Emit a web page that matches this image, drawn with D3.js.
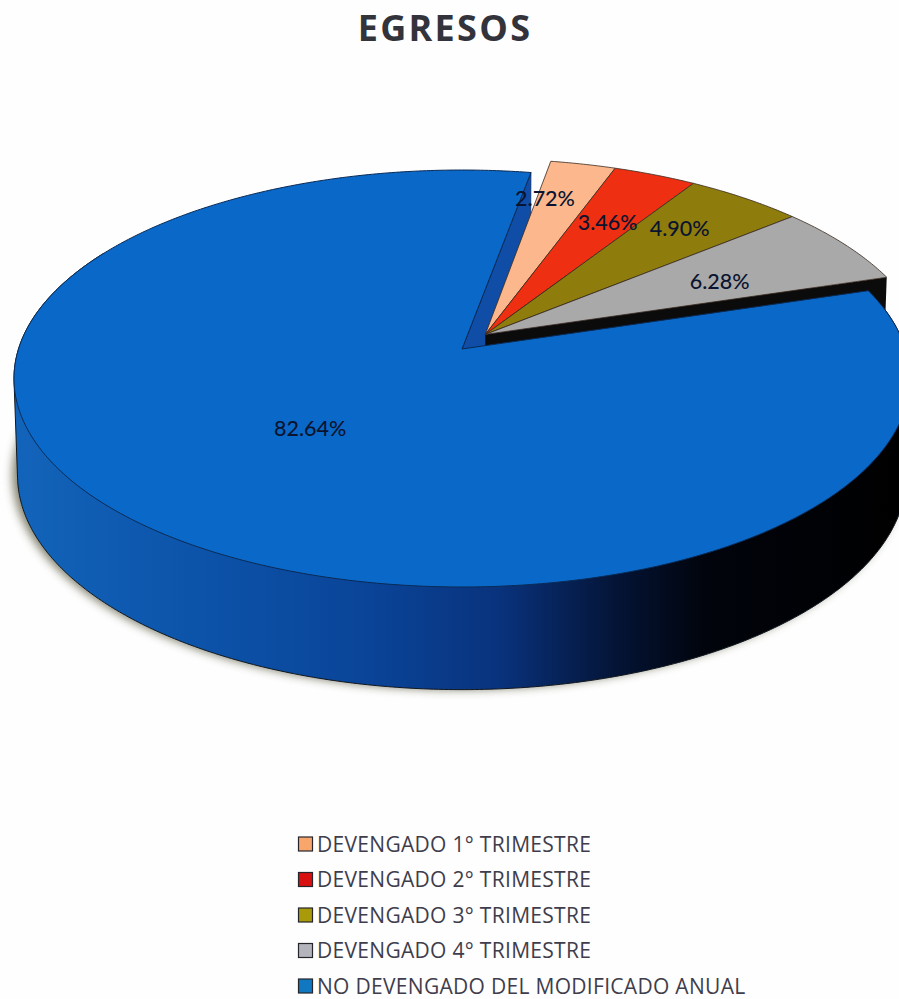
<!DOCTYPE html>
<html>
<head>
<meta charset="utf-8">
<script src="https://cdn.jsdelivr.net/npm/d3@7"></script>
<style>
  body { margin: 0; background: #fefefe; }
  svg { display: block; }
</style>
</head>
<body>
<svg></svg>
<script>
const categories = ["DEVENGADO 1° TRIMESTRE", "DEVENGADO 2° TRIMESTRE", "DEVENGADO 3° TRIMESTRE",
    "DEVENGADO 4° TRIMESTRE", "NO DEVENGADO DEL MODIFICADO ANUAL"];
const values = [2.72, 3.46, 4.90, 6.28, 82.64];
const colors = ["#fcb88c", "#ee2f12", "#8e7c0c", "#a9a9a9", "#0a69c8"];
const swatchColors = ["#f9a66c", "#d81010", "#a89a08", "#b4b4bc", "#1078c0"];

const svgCanvas = d3.select("svg").attr("width", 899).attr("height", 999);
const defs = svgCanvas.append("defs");

// the pie is a unit disc seen in perspective, so the centre sits above the middle of the ellipse
const topPlane = { x: 462, y: 349, k: 443.5, m: 204.3, p: 0.1415 };
const bottomPlane = { x: 462, y: 445, k: 440, m: 210, p: 0.1415 };
const explode = { x: 0.053, y: 0.072 };
const noExplode = { x: 0, y: 0 };

function project(plane, offset, angle, r) {
    const x = r * Math.sin(angle) + offset.x;
    const y = r * Math.cos(angle) + offset.y;
    const d = 1 + plane.p * y;
    return [plane.x + plane.k * x / d, plane.y - plane.m * y / d];
}

function rim(plane, offset, a0, a1) {
    const n = Math.max(2, Math.ceil(Math.abs(a1 - a0) / 0.01));
    return d3.range(n + 1).map(i => project(plane, offset, a0 + (a1 - a0) * i / n, 1));
}

const line = d3.line();
const color = d3.scaleOrdinal().domain(categories).range(colors);
const swatch = d3.scaleOrdinal().domain(categories).range(swatchColors);

const slices = d3.pie().sort(null).value((d, i) => values[i])
    .startAngle(10.2 * Math.PI / 180)
    .endAngle((360 + 10.2) * Math.PI / 180)(categories);
const small = slices.slice(0, 4);
const big = slices[4];

function topFace(s, offset) {
    const apex = project(topPlane, offset, 0, 0);
    return line([apex].concat(rim(topPlane, offset, s.startAngle, s.endAngle))) + "Z";
}

// wall gradient goes from blue on the left to black on the right
const wallGrad = defs.append("linearGradient").attr("id", "wall")
    .attr("gradientUnits", "userSpaceOnUse")
    .attr("x1", 15).attr("x2", 899).attr("y1", 0).attr("y2", 0);
[[0, "#1264ba"], [0.2, "#0c54aa"], [0.4, "#0a4498"], [0.55, "#09327c"],
 [0.68, "#041436"], [0.78, "#01040c"], [1, "#000000"]].forEach(function(s) {
    wallGrad.append("stop").attr("offset", s[0]).attr("stop-color", s[1]);
});

const blur = defs.append("filter").attr("id", "soft")
    .attr("x", "-10%").attr("y", "-10%").attr("width", "120%").attr("height", "120%");
blur.append("feGaussianBlur").attr("stdDeviation", 5);

// outer wall only needs the part of the rim facing the viewer
const wallEnd = 300 * Math.PI / 180;
const wallHull = d3.polygonHull(rim(topPlane, noExplode, big.startAngle, wallEnd)
    .concat(rim(bottomPlane, noExplode, big.startAngle, wallEnd)));

// shadow under the outer wall
svgCanvas.append("path")
    .attr("d", line(rim(bottomPlane, noExplode, 0, 2 * Math.PI)) + "Z")
    .attr("transform", "translate(-5,0)")
    .attr("fill", "#62614a")
    .attr("opacity", 0.8)
    .attr("filter", "url(#soft)");

svgCanvas.append("path")
    .attr("d", line(wallHull) + "Z")
    .attr("fill", "url(#wall)")
    .attr("stroke", "#101820")
    .attr("stroke-width", 1);

// cut face of the big slice, seen behind the small ones
const faceAngle = big.endAngle;
svgCanvas.append("path")
    .attr("d", line([
        project(topPlane, noExplode, 0, 0),
        project(topPlane, noExplode, faceAngle, 1),
        project(bottomPlane, noExplode, faceAngle, 1),
        project(bottomPlane, noExplode, 0, 0)
    ]) + "Z")
    .attr("fill", "#0f4da6")
    .attr("stroke", "#0b2a66")
    .attr("stroke-width", 0.8);

// black cut face of the exploded group
const lastEnd = small[3].endAngle;
svgCanvas.append("path")
    .attr("d", line([
        project(topPlane, explode, 0, 0),
        project(topPlane, explode, lastEnd, 1),
        project(bottomPlane, explode, lastEnd, 1),
        project(bottomPlane, explode, 0, 0)
    ]) + "Z")
    .attr("fill", "#0b0b0b");

svgCanvas.selectAll("path.small")
    .data(small)
    .join("path")
    .attr("class", "small")
    .attr("d", d => topFace(d, explode))
    .attr("fill", d => color(d.data))
    .attr("stroke", "#3a2a20")
    .attr("stroke-width", 0.8)
    .attr("stroke-linejoin", "round");

svgCanvas.append("path")
    .attr("d", topFace(big, noExplode))
    .attr("fill", color(big.data))
    .attr("stroke", "#0a2a55")
    .attr("stroke-width", 1)
    .attr("stroke-linejoin", "round");

// data labels: share of the radius and a turn in degrees away from the slice middle
const labelRadius = [0.77, 0.68, 0.75, 0.62, 0.49];
const labelTurn = [-3.4, 0.6, -1.2, 2.4, 0];
svgCanvas.selectAll("text.pct")
    .data(slices)
    .join("text")
    .attr("class", "pct")
    .each(function(d, i) {
        const offset = i < 4 ? explode : noExplode;
        const mid = (d.startAngle + d.endAngle) / 2 + labelTurn[i] * Math.PI / 180;
        const p = project(topPlane, offset, mid, labelRadius[i]);
        d3.select(this).attr("x", p[0]).attr("y", p[1]);
    })
    .attr("text-anchor", "middle")
    .attr("dy", "0.36em")
    .attr("font-family", "Lato, sans-serif")
    .attr("font-size", 21.5)
    .attr("font-weight", 500)
    .attr("fill", "#0a1430")
    .text((d, i) => values[i].toFixed(2) + "%");

svgCanvas.append("text")
    .attr("x", 445)
    .attr("y", 41)
    .attr("text-anchor", "middle")
    .attr("font-family", "'Open Sans', sans-serif")
    .attr("font-size", 36)
    .attr("font-weight", 700)
    .attr("letter-spacing", 2.3)
    .attr("fill", "#33333b")
    .text("EGRESOS");

// legend
const rowY = d3.scalePoint().domain(categories).range([844, 986]);
const legend = svgCanvas.selectAll("g.legend")
    .data(categories)
    .join("g")
    .attr("class", "legend")
    .attr("transform", d => "translate(298," + rowY(d) + ")");

legend.append("rect")
    .attr("x", 0.5).attr("y", -7)
    .attr("width", 14).attr("height", 14)
    .attr("fill", d => swatch(d))
    .attr("stroke", "#25252b")
    .attr("stroke-width", 1.2);

legend.append("text")
    .attr("x", 19)
    .attr("dy", "0.36em")
    .attr("font-family", "'Open Sans', sans-serif")
    .attr("font-size", 21)
    .attr("font-weight", 500)
    .attr("letter-spacing", 0.3)
    .attr("fill", "#3f3d4c")
    .text(d => d);
</script>
</body>
</html>
